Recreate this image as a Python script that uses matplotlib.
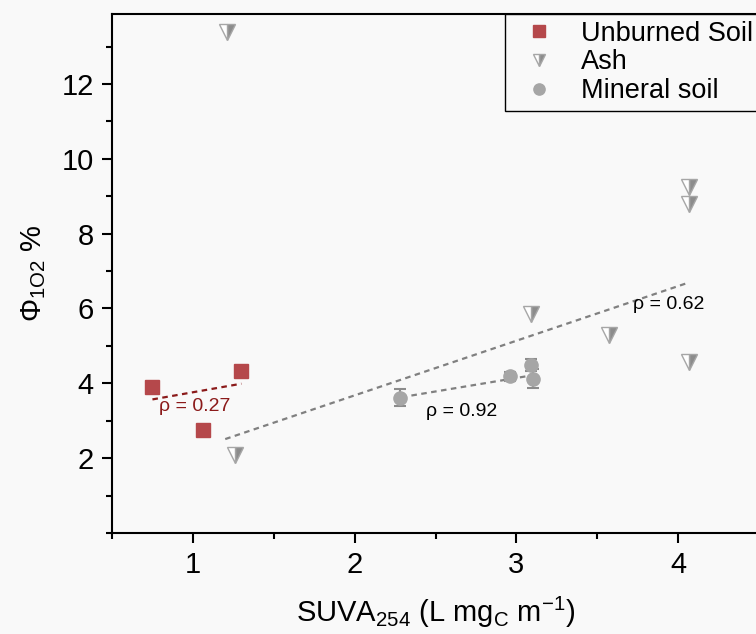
import numpy as np
import matplotlib
matplotlib.use('Agg')
import matplotlib.pyplot as plt
from matplotlib.ticker import MultipleLocator

plt.rcParams['font.family'] = ['Liberation Sans', 'DejaVu Sans']
plt.rcParams['mathtext.default'] = 'regular'

# unburned soil
UNBURNED_SUVA = [0.75, 1.06, 1.30]
UNBURNED_PHI = [3.90, 2.75, 4.32]
UNBURNED_FIT_X = [0.75, 1.30]
UNBURNED_FIT_Y = [3.57, 3.99]
UNBURNED_RHO = 0.27

# ash
ASH_SUVA = [1.21, 1.26, 3.09, 3.57, 4.07, 4.07, 4.07]
ASH_PHI = [13.39, 2.08, 5.86, 5.28, 9.25, 8.79, 4.57]
ASH_FIT_X = [1.20, 4.07]
ASH_FIT_Y = [2.51, 6.70]
ASH_RHO = 0.62

# mineral soil
MINERAL_SUVA = [2.28, 2.96, 3.09, 3.10]
MINERAL_PHI = [3.62, 4.19, 4.48, 4.12]
MINERAL_ERR = [0.23, 0.12, 0.16, 0.25]
MINERAL_FIT_X = [2.29, 3.12]
MINERAL_FIT_Y = [3.63, 4.23]
MINERAL_RHO = 0.92

RED = '#b5484b'
DARK_RED = '#8b1a1a'
GREY = '#a6a6a6'
DARK_GREY = '#8c8c8c'
BG = '#f9f9f9'


def main():
    fig = plt.figure(figsize=(7.56, 6.34), dpi=100, facecolor=BG)
    ax = fig.add_axes([112 / 756, 101 / 634, 647 / 756, 519 / 634])
    ax.set_facecolor(BG)

    unburned, = ax.plot(UNBURNED_SUVA, UNBURNED_PHI, 's', color=RED,
                        markersize=9.5, linestyle='none', zorder=3)
    ash, = ax.plot(ASH_SUVA, ASH_PHI, 'v', linestyle='none', markersize=11,
                   fillstyle='right', markerfacecolor=DARK_GREY,
                   markerfacecoloralt='white', markeredgecolor=GREY,
                   markeredgewidth=1, zorder=3)
    mineral = ax.errorbar(MINERAL_SUVA, MINERAL_PHI, yerr=MINERAL_ERR,
                          fmt='o', color=GREY, ecolor=DARK_GREY,
                          elinewidth=1.5, capsize=4.3, capthick=1.5,
                          markersize=9.5, zorder=3)

    ax.plot(UNBURNED_FIT_X, UNBURNED_FIT_Y, color=DARK_RED, lw=1.6,
            dashes=(2.5, 2))
    ax.plot(ASH_FIT_X, ASH_FIT_Y, color='#808080', lw=1.6, dashes=(2.5, 2))
    ax.plot(MINERAL_FIT_X, MINERAL_FIT_Y, color='#808080', lw=1.6,
            dashes=(2.5, 2))

    ax.text(1.01, 3.37, 'ρ = %.2f' % UNBURNED_RHO, color=DARK_RED,
            fontsize=14, ha='center', va='center')
    ax.text(3.94, 6.10, 'ρ = %.2f' % ASH_RHO, color='black',
            fontsize=14, ha='center', va='center')
    ax.text(2.66, 3.25, 'ρ = %.2f' % MINERAL_RHO, color='black',
            fontsize=14, ha='center', va='center')

    ax.set_xlim(0.5, 4.5)
    ax.set_ylim(0, 13.87)
    ax.xaxis.set_minor_locator(MultipleLocator(0.5))
    ax.yaxis.set_minor_locator(MultipleLocator(1))
    ax.set_xticks([1, 2, 3, 4])
    ax.set_yticks([2, 4, 6, 8, 10, 12])

    for side in ['left', 'bottom', 'top', 'right']:
        ax.spines[side].set_linewidth(1.5)
    ax.tick_params(which='major', direction='out', length=7, width=1.5,
                   labelsize=21, pad=6)
    ax.tick_params(which='minor', direction='out', length=4.5, width=1.5)
    ax.tick_params(top=False, right=False, which='both')

    ax.set_xlabel('SUVA$_{254}$ (L mg$_C$ m$^{-1}$)', fontsize=21, labelpad=11)
    ax.set_ylabel('Φ$_{1O2}$ %', fontsize=21, labelpad=10)

    leg = ax.legend([unburned, ash, mineral[0]],
                    ['Unburned Soil', 'Ash', 'Mineral soil'],
                    loc='upper left', bbox_to_anchor=(505 / 756, 1 - 14 / 634),
                    bbox_transform=fig.transFigure, fontsize=19.5,
                    frameon=True, fancybox=False, borderpad=0.25,
                    labelspacing=0.1, handlelength=2.0, handletextpad=0.55,
                    markerscale=0.85, borderaxespad=0)
    leg.get_frame().set_edgecolor('black')
    leg.get_frame().set_linewidth(1.0)
    leg.get_frame().set_facecolor(BG)
    leg.get_frame().set_alpha(1)

    plt.savefig('out.png', dpi=100, facecolor=fig.get_facecolor())


if __name__ == '__main__':
    main()
